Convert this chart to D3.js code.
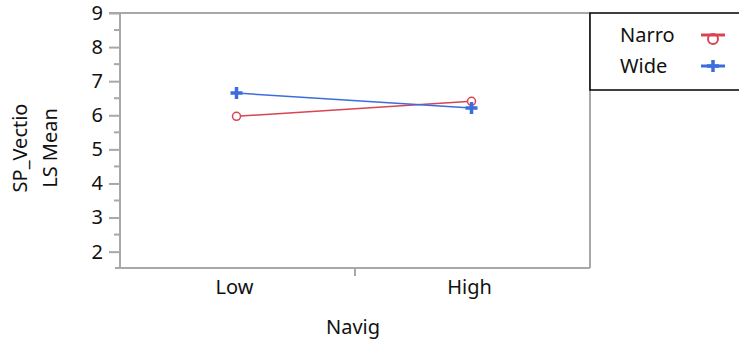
<!DOCTYPE html>
<html>
<head>
<meta charset="utf-8">
<script src="https://cdn.jsdelivr.net/npm/d3@7"></script>
<style>
  body { margin: 0; background: #fff; }
  svg text { font-family: "Noto Sans", "Open Sans", sans-serif; fill: #111; }
</style>
</head>
<body>
<div id="chart"></div>
<script>
var categories = ["Low", "High"];
var seriesNames = ["Narro", "Wide"];
var narroValues = [5.97, 6.41];
var wideValues = [6.65, 6.21];
var yTicks = [2, 3, 4, 5, 6, 7, 8, 9];
var colors = { Narro: "#d94452", Wide: "#3b6ddc" };

var fs = "20px";
var width = 739, height = 345;
var margin = { top: 13, left: 120, right: 149, bottom: 77 };
var plotW = width - margin.left - margin.right;
var plotH = height - margin.top - margin.bottom;

var svg = d3.select("#chart").append("svg")
  .attr("width", width)
  .attr("height", height);

var g = svg.append("g")
  .attr("transform", "translate(" + margin.left + "," + margin.top + ")");

var x = d3.scaleBand().domain(categories).range([0, plotW]);
var y = d3.scaleLinear().domain([1.52, 9]).range([plotH, 0]);

var axisColor = "#a8a8a8";

// frame (top and right)
g.append("line").attr("x1", -11).attr("x2", plotW).attr("y1", 0).attr("y2", 0)
  .attr("stroke", axisColor).attr("stroke-width", 2);
g.append("line").attr("x1", plotW).attr("x2", plotW).attr("y1", 0).attr("y2", plotH)
  .attr("stroke", axisColor).attr("stroke-width", 2);

// y axis
var yAxis = d3.axisLeft(y).tickValues(yTicks).tickSize(11).tickPadding(6);
var yg = g.append("g").call(yAxis);
yg.attr("font-size", null).attr("font-family", null);
yg.select(".domain").attr("stroke", axisColor).attr("stroke-width", 2)
  .attr("d", "M0," + plotH + "V0");
yg.selectAll(".tick line").attr("stroke", axisColor).attr("stroke-width", 2);
yg.selectAll(".tick text").attr("font-size", fs).attr("fill", "#111");

// minor ticks
var minor = d3.range(2.5, 9, 1);
g.selectAll(".minor").data(minor).enter().append("line")
  .attr("class", "minor")
  .attr("x1", -6).attr("x2", 0)
  .attr("y1", function(d) { return y(d); })
  .attr("y2", function(d) { return y(d); })
  .attr("stroke", axisColor).attr("stroke-width", 2);

// x axis
g.append("line").attr("x1", -5).attr("x2", plotW).attr("y1", plotH).attr("y2", plotH)
  .attr("stroke", axisColor).attr("stroke-width", 2);
g.append("line").attr("x1", x.bandwidth()).attr("x2", x.bandwidth())
  .attr("y1", plotH).attr("y2", plotH + 8)
  .attr("stroke", axisColor).attr("stroke-width", 2);
g.selectAll(".xlab").data(categories).enter().append("text")
  .attr("x", function(d) { return x(d) + x.bandwidth() / 2 - 3; })
  .attr("y", plotH + 26)
  .attr("text-anchor", "middle")
  .attr("font-size", fs)
  .text(function(d) { return d; });

// axis titles
svg.append("text")
  .attr("x", margin.left + plotW / 2 - 2)
  .attr("y", 334)
  .attr("text-anchor", "middle")
  .attr("font-size", fs)
  .text("Navig");
svg.append("text")
  .attr("transform", "translate(27,148) rotate(-90)")
  .attr("text-anchor", "middle")
  .attr("font-size", fs)
  .text("SP_Vectio");
svg.append("text")
  .attr("transform", "translate(57,148) rotate(-90)")
  .attr("text-anchor", "middle")
  .attr("font-size", fs)
  .text("LS Mean");

// series
var series = [
  { name: "Narro", values: narroValues },
  { name: "Wide", values: wideValues }
];
var cx = function(i) { return x(categories[i]) + x.bandwidth() / 2 - 1; };

var line = d3.line()
  .x(function(d, i) { return cx(i); })
  .y(function(d) { return y(d); });

series.forEach(function(s) {
  g.append("path")
    .datum(s.values)
    .attr("d", line)
    .attr("fill", "none")
    .attr("stroke", colors[s.name])
    .attr("stroke-width", 1.5);
});

function drawMarker(sel, name, px, py) {
  if (name === "Narro") {
    sel.append("circle").attr("cx", px).attr("cy", py).attr("r", 4)
      .attr("fill", "#fff").attr("stroke", colors[name]).attr("stroke-width", 1.5);
  } else {
    sel.append("path")
      .attr("d", "M" + (px - 6) + "," + py + "H" + (px + 6) + "M" + px + "," + (py - 6) + "V" + (py + 6))
      .attr("stroke", colors[name]).attr("stroke-width", 3.5);
  }
}

series.forEach(function(s) {
  s.values.forEach(function(v, i) {
    drawMarker(g, s.name, cx(i), y(v));
  });
});

// legend
var lg = svg.append("g").attr("transform", "translate(590,13)");
lg.append("rect").attr("x", 0).attr("y", 0).attr("width", 160).attr("height", 77)
  .attr("fill", "#fff").attr("stroke", "#000").attr("stroke-width", 1.5);
series.forEach(function(s, i) {
  var ly = 22 + i * 31;
  lg.append("text").attr("x", 30).attr("y", ly + 7)
    .attr("font-size", fs).text(s.name);
  lg.append("line").attr("x1", 111).attr("x2", 135).attr("y1", ly).attr("y2", ly)
    .attr("stroke", colors[s.name]).attr("stroke-width", 3);
  if (s.name === "Narro") {
    lg.append("circle").attr("cx", 123).attr("cy", ly + 4).attr("r", 5)
      .attr("fill", "none").attr("stroke", colors[s.name]).attr("stroke-width", 2);
  } else {
    drawMarker(lg, s.name, 123, ly);
  }
});
</script>
</body>
</html>
